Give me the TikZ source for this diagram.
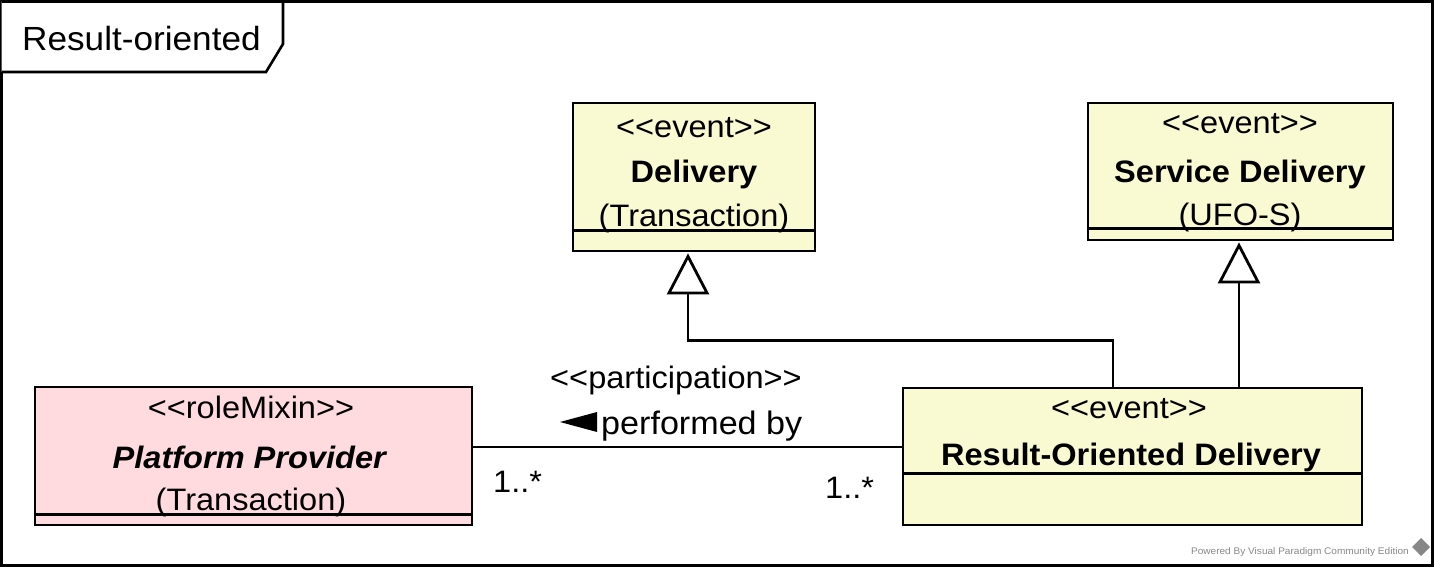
\documentclass[tikz,border=0pt]{standalone}
\usepackage{fontspec}
\setmainfont{Liberation Sans}[FakeStretch=1.05]
\usetikzlibrary{arrows.meta}
\definecolor{eventfill}{RGB}{250,250,210}
\definecolor{rolefill}{RGB}{255,218,222}
\definecolor{footgray}{RGB}{135,135,135}
\newcommand{\stereotype}[1]{<\kern0pt<#1>\kern0pt>}
\tikzstyle{eventbox} = [draw=black, fill=eventfill, line width=2.8pt,
    rectangle, inner sep=0pt]
\tikzstyle{rolebox} = [eventbox, fill=rolefill]
\tikzstyle{umltext} = [inner sep=0pt, anchor=base]
\tikzstyle{sepline} = [line width=2.8pt]
\tikzstyle{assocline} = [line width=2.8pt]
\tikzstyle{genline} = [line width=2.8pt,
    -{Triangle[open, length=41pt, width=42pt, fill=white]}]

\begin{document}
\begin{tikzpicture}[x=1pt, y=-1pt, font=\fontsize{31}{36}\selectfont]
\useasboundingbox (0,0) rectangle (1434,567);
% frame with its name tab
\draw[line width=2.6pt] (1.5,1.5) rectangle (1432.5,565.5);
\draw[line width=2.6pt, fill=white] (1.5,1.5) -- (283,1.5) -- (283,44) -- (266,72) -- (1.5,72);
\node[umltext, anchor=base west, font=\fontsize{33.5}{38}\selectfont] (frametitle) at (22,51) {Result-oriented};

% classes
\node[eventbox, minimum width=242pt, minimum height=148pt] (delivery) at (694,177) {};
\node[eventbox, minimum width=305pt, minimum height=137pt] (servicedelivery) at (1240.5,171.5) {};
\node[rolebox, minimum width=437pt, minimum height=138pt] (provider) at (253.5,456) {};
\node[eventbox, minimum width=459pt, minimum height=137pt] (resultdelivery) at (1132.5,456.5) {};

\node[umltext] (delivery-st) at (694,137) {\stereotype{event}};
\node[umltext] (delivery-name) at (694,182) {\textbf{Delivery}};
\node[umltext] (delivery-sub) at (694,226) {(Transaction)};

\node[umltext] (servicedelivery-st) at (1240,133) {\stereotype{event}};
\node[umltext] (servicedelivery-name) at (1240,182) {\textbf{Service Delivery}};
\node[umltext] (servicedelivery-sub) at (1240,225) {(UFO-S)};

\node[umltext] (provider-st) at (251,418) {\stereotype{roleMixin}};
\node[umltext] (provider-name) at (250,468) {\textbf{\textit{Platform Provider}}};
\node[umltext] (provider-sub) at (251,510) {(Transaction)};

\node[umltext] (resultdelivery-st) at (1129,418) {\stereotype{event}};
\node[umltext] (resultdelivery-name) at (1131,465) {\textbf{Result-Oriented Delivery}};

% compartment lines
\draw[sepline] ([yshift=22pt]delivery.south west) -- ([yshift=22pt]delivery.south east);
\draw[sepline] ([yshift=13pt]servicedelivery.south west) -- ([yshift=13pt]servicedelivery.south east);
\draw[sepline] ([yshift=12pt]provider.south west) -- ([yshift=12pt]provider.south east);
\draw[sepline] ([yshift=53pt]resultdelivery.south west) -- ([yshift=53pt]resultdelivery.south east);

% generalizations
\draw[genline] ([xshift=-19.5pt]resultdelivery.north) |- ([xshift=-6pt,yshift=-88pt]delivery.south) -- ([xshift=-6pt,yshift=-1pt]delivery.south);
\draw[genline] ([xshift=106.5pt]resultdelivery.north) -- ([xshift=106.5pt,yshift=-1pt]resultdelivery.north |- servicedelivery.south);

% association
\draw[assocline] ([yshift=9pt]provider.east) -- ([yshift=9pt]provider.east -| resultdelivery.west);
\node[umltext] (assoc-st) at (676,388) {\stereotype{participation}};
\node[umltext, anchor=base west, font=\fontsize{32.5}{36}\selectfont] (assoc-name) at (601,434) {performed by};
\fill (assoc-name.base west) ++(-4,-2) -- ++(0,-20) -- ++(-37,10) -- cycle;
\node[umltext, anchor=base west] (provider-mult) at (493,492) {1..*};
\node[umltext, anchor=base west] (result-mult) at (825,498) {1..*};

% footer
\node[umltext, anchor=base east, font=\fontsize{9.6}{11}\selectfont, text=footgray] (footer) at (1409,554) {Powered By Visual Paradigm Community Edition};
\fill[footgray] (1421,538) -- (1430,547) -- (1421,556) -- (1412,547) -- cycle;
\end{tikzpicture}
\end{document}
